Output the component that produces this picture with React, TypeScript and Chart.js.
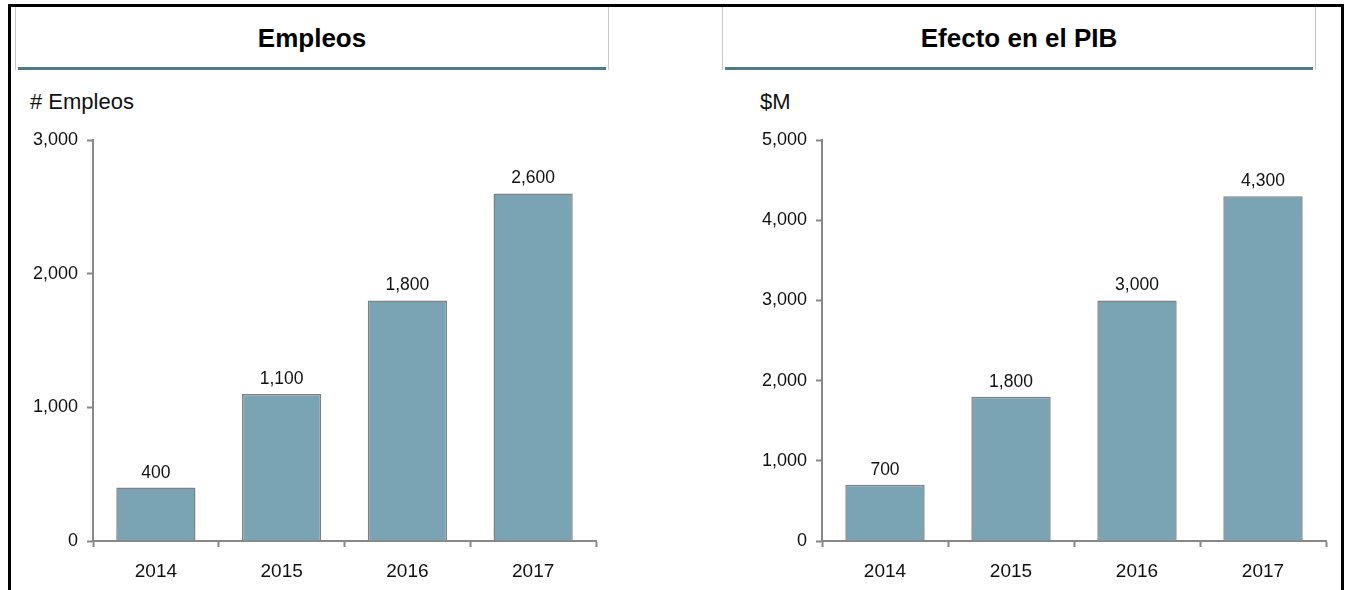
import React, { useEffect, useRef } from "react";
import { Chart, registerables } from "chart.js";

Chart.register(...registerables);

const years = ["2014", "2015", "2016", "2017"];
const empleos = [400, 1100, 1800, 2600];
const pib = [700, 1800, 3000, 4300];
const empleosTicksMax = 3000;
const pibTicksMax = 5000;

const FONT = "'Liberation Sans', Arial, sans-serif";
const BAR = "#7aa3b3";
const BAR_BORDER = "#808080";
const AXIS = "#888888";
const TEAL = "#4f7a8a";

const fmt = (v: number) => v.toLocaleString("en-US");

const valueLabels = {
  id: "valueLabels",
  afterDatasetsDraw(chart: any) {
    const ctx = chart.ctx;
    ctx.save();
    ctx.font = `17.5px ${FONT}`;
    ctx.fillStyle = "#111";
    ctx.textAlign = "center";
    ctx.textBaseline = "alphabetic";
    chart.data.datasets.forEach((ds: any, i: number) => {
      const meta = chart.getDatasetMeta(i);
      meta.data.forEach((bar: any, j: number) => {
        ctx.fillText(fmt(ds.data[j]), bar.x, bar.y - 10);
      });
    });
    ctx.restore();
  },
};

function BarChart(props: {
  values: number[];
  max: number;
  yWidth: number;
  padRight: number;
  width: number;
  left: number;
}) {
  const ref = useRef<HTMLCanvasElement>(null);
  useEffect(() => {
    const chart = new Chart(ref.current!, {
      type: "bar",
      data: {
        labels: years,
        datasets: [
          {
            data: props.values,
            backgroundColor: BAR,
            borderColor: BAR_BORDER,
            borderWidth: 1.5,
            barPercentage: 0.63,
            categoryPercentage: 1,
          },
        ],
      },
      options: {
        animation: false,
        responsive: false,
        maintainAspectRatio: false,
        layout: { padding: { top: 20, right: props.padRight, left: 0, bottom: 0 } },
        plugins: { legend: { display: false }, tooltip: { enabled: false } },
        scales: {
          x: {
            afterFit: (s: any) => {
              s.height = 49;
            },
            grid: {
              display: true,
              drawOnChartArea: false,
              drawTicks: true,
              tickLength: 6,
              tickColor: AXIS,
              tickWidth: 2,
              offset: true,
            },
            border: { display: true, color: AXIS, width: 2 },
            ticks: { color: "#111", font: { family: FONT, size: 19 }, padding: 13 },
          },
          y: {
            min: 0,
            max: props.max,
            afterFit: (s: any) => {
              s.width = props.yWidth;
            },
            grid: {
              display: true,
              drawOnChartArea: false,
              drawTicks: true,
              tickLength: 6,
              tickColor: AXIS,
              tickWidth: 2,
            },
            border: { display: true, color: AXIS, width: 2 },
            ticks: {
              stepSize: 1000,
              color: "#111",
              font: { family: FONT, size: 18 },
              padding: 9,
              callback: (v: any) => fmt(Number(v)),
            },
          },
        },
      },
      plugins: [valueLabels],
    });
    return () => chart.destroy();
  }, []);
  return (
    <canvas
      ref={ref}
      width={props.width}
      height={470}
      style={{ position: "absolute", left: props.left, top: 120, width: props.width, height: 470 }}
    />
  );
}

function TitleBox(props: { left: number; width: number; text: string }) {
  return (
    <div
      style={{
        position: "absolute",
        left: props.left,
        top: 4,
        width: props.width,
        height: 66,
        borderLeft: "1px solid #c8c8c8",
        borderRight: "1px solid #c8c8c8",
        boxSizing: "border-box",
      }}
    >
      <div
        style={{
          position: "absolute",
          left: 0,
          right: 0,
          top: 19,
          textAlign: "center",
          font: `bold 26px ${FONT}`,
          color: "#000",
        }}
      >
        {props.text}
      </div>
      <div
        style={{
          position: "absolute",
          left: 2,
          right: 2,
          bottom: 0,
          height: 3,
          background: TEAL,
        }}
      />
    </div>
  );
}

export default function App() {
  return (
    <div
      style={{
        position: "absolute",
        left: 0,
        top: 0,
        width: 1346,
        height: 590,
        overflow: "hidden",
        background: "#fff",
      }}
    >
      <TitleBox left={15} width={594} text="Empleos" />
      <TitleBox left={722} width={594} text="Efecto en el PIB" />
      <div
        style={{
          position: "absolute",
          left: 8,
          top: 4,
          width: 1336,
          height: 600,
          borderLeft: "3px solid #000",
          borderRight: "3px solid #000",
          borderTop: "3px solid #000",
          boxSizing: "border-box",
          pointerEvents: "none",
        }}
      />
      <div style={{ position: "absolute", left: 30, top: 89, font: `22px ${FONT}`, color: "#111" }}>
        # Empleos
      </div>
      <div style={{ position: "absolute", left: 760, top: 89, font: `22px ${FONT}`, color: "#111" }}>
        $M
      </div>
      <BarChart values={empleos} max={empleosTicksMax} yWidth={73} padRight={24} width={600} left={20} />
      <BarChart values={pib} max={pibTicksMax} yWidth={95} padRight={11} width={610} left={727} />
    </div>
  );
}
